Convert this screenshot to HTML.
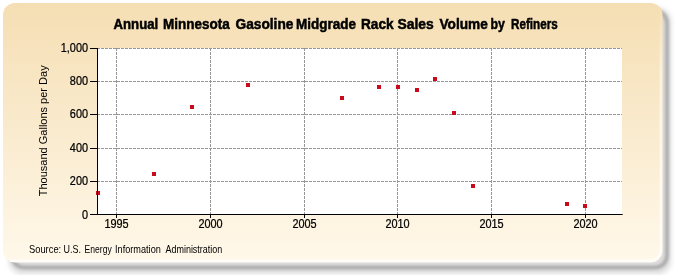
<!DOCTYPE html>
<html><head><meta charset="utf-8"><style>
html,body{margin:0;padding:0;background:#fff;width:675px;height:275px;overflow:hidden}
svg{display:block;will-change:transform}
.st{font-family:"Liberation Sans",sans-serif;font-size:10.55px;fill:#000}
.tt{font-family:"Liberation Sans",sans-serif;font-size:14.6px;font-weight:bold;fill:#000;stroke:#000;stroke-width:0.5px}
.g{stroke:#969696;stroke-width:1;stroke-dasharray:3,1;fill:none}
.ax{stroke:#000;stroke-width:1}
.t{font-family:"Liberation Sans",sans-serif;font-size:12.1px;fill:#000;stroke:#000;stroke-width:0.25px}
</style></head><body>
<svg width="675" height="275" viewBox="0 0 675 275">
<defs>
<linearGradient id="bg" x1="0" y1="0" x2="0" y2="1">
<stop offset="0" stop-color="#f5deb3"/>
<stop offset="1" stop-color="#fff8ea"/>
</linearGradient>
<linearGradient id="hl" gradientUnits="userSpaceOnUse" x1="0" y1="8" x2="0" y2="261"><stop offset="0" stop-color="#fff" stop-opacity="0"/><stop offset="0.25" stop-color="#fff" stop-opacity="0.45"/><stop offset="1" stop-color="#fff" stop-opacity="0.75"/></linearGradient>
<filter id="sh" x="-5%" y="-5%" width="110%" height="115%">
<feGaussianBlur stdDeviation="1.5"/>
</filter>
<filter id="sh2" x="-5%" y="-5%" width="110%" height="115%"><feGaussianBlur stdDeviation="2.5"/></filter>
<filter id="soft" x="-2%" y="-2%" width="104%" height="104%"><feGaussianBlur stdDeviation="0.6"/></filter>
</defs>
<rect x="9" y="8" width="662" height="266" rx="13" fill="#dedede" filter="url(#sh2)"/>
<rect x="12" y="11" width="655" height="256.5" rx="12" fill="none" stroke="#a6a6a6" stroke-width="3.5" filter="url(#sh)"/>
<g filter="url(#soft)">
<rect x="3" y="3" width="659.5" height="259.5" rx="12" fill="url(#bg)"/>
<path d="M660.8 8 V250.5 A10.3 10.3 0 0 1 650.5 260.8 H10" fill="none" stroke="url(#hl)" stroke-width="2.6"/>
</g>
<rect x="97" y="48" width="525" height="166" fill="#fff"/>
<line x1="97" y1="181.5" x2="622" y2="181.5" class="g"/><line x1="97" y1="148.5" x2="622" y2="148.5" class="g"/><line x1="97" y1="114.5" x2="622" y2="114.5" class="g"/><line x1="97" y1="81.5" x2="622" y2="81.5" class="g"/><line x1="97" y1="48.5" x2="622" y2="48.5" class="g"/><line x1="116.5" y1="48" x2="116.5" y2="214" class="g"/><line x1="210.5" y1="48" x2="210.5" y2="214" class="g"/><line x1="304.5" y1="48" x2="304.5" y2="214" class="g"/><line x1="397.5" y1="48" x2="397.5" y2="214" class="g"/><line x1="491.5" y1="48" x2="491.5" y2="214" class="g"/><line x1="585.5" y1="48" x2="585.5" y2="214" class="g"/>
<line x1="90" y1="214.5" x2="97" y2="214.5" class="ax"/><text transform="translate(88,218.50) scale(0.9,1)" text-anchor="end" class="t">0</text><line x1="90" y1="181.5" x2="97" y2="181.5" class="ax"/><text transform="translate(88,184.50) scale(0.9,1)" text-anchor="end" class="t">200</text><line x1="90" y1="148.5" x2="97" y2="148.5" class="ax"/><text transform="translate(88,151.50) scale(0.9,1)" text-anchor="end" class="t">400</text><line x1="90" y1="114.5" x2="97" y2="114.5" class="ax"/><text transform="translate(88,118.20) scale(0.9,1)" text-anchor="end" class="t">600</text><line x1="90" y1="81.5" x2="97" y2="81.5" class="ax"/><text transform="translate(88,84.50) scale(0.9,1)" text-anchor="end" class="t">800</text><line x1="90" y1="48.5" x2="97" y2="48.5" class="ax"/><text transform="translate(88,51.50) scale(0.9,1)" text-anchor="end" class="t">1,000</text>
<line x1="116.5" y1="215" x2="116.5" y2="218" class="ax"/><text transform="translate(116.5,227.8) scale(0.9,1)" text-anchor="middle" class="t">1995</text><line x1="210.5" y1="215" x2="210.5" y2="218" class="ax"/><text transform="translate(210.5,227.8) scale(0.9,1)" text-anchor="middle" class="t">2000</text><line x1="304.5" y1="215" x2="304.5" y2="218" class="ax"/><text transform="translate(304.5,227.8) scale(0.9,1)" text-anchor="middle" class="t">2005</text><line x1="397.5" y1="215" x2="397.5" y2="218" class="ax"/><text transform="translate(397.5,227.8) scale(0.9,1)" text-anchor="middle" class="t">2010</text><line x1="491.5" y1="215" x2="491.5" y2="218" class="ax"/><text transform="translate(491.5,227.8) scale(0.9,1)" text-anchor="middle" class="t">2015</text><line x1="585.5" y1="215" x2="585.5" y2="218" class="ax"/><text transform="translate(585.5,227.8) scale(0.9,1)" text-anchor="middle" class="t">2020</text>
<rect x="96" y="191" width="4" height="4" fill="#c80a1c"/><rect x="152" y="172" width="4" height="4" fill="#c80a1c"/><rect x="190" y="105" width="4" height="4" fill="#c80a1c"/><rect x="246" y="83" width="4" height="4" fill="#c80a1c"/><rect x="340" y="96" width="4" height="4" fill="#c80a1c"/><rect x="377" y="85" width="4" height="4" fill="#c80a1c"/><rect x="396" y="85" width="4" height="4" fill="#c80a1c"/><rect x="415" y="88" width="4" height="4" fill="#c80a1c"/><rect x="433" y="77" width="4" height="4" fill="#c80a1c"/><rect x="452" y="111" width="4" height="4" fill="#c80a1c"/><rect x="471" y="184" width="4" height="4" fill="#c80a1c"/><rect x="565" y="202" width="4" height="4" fill="#c80a1c"/><rect x="583" y="204" width="4" height="4" fill="#c80a1c"/>
<line x1="97.5" y1="48" x2="97.5" y2="215" class="ax"/>
<line x1="90" y1="214.5" x2="622.7" y2="214.5" class="ax"/>
<text transform="translate(113.49,28.6) scale(0.904,1)" class="tt">Annual</text><text transform="translate(163.00,28.6) scale(0.925,1)" class="tt">Minnesota</text><text transform="translate(235.48,28.6) scale(0.940,1)" class="tt">Gasoline</text><text transform="translate(295.98,28.6) scale(0.925,1)" class="tt">Midgrade</text><text transform="translate(360.99,28.6) scale(0.934,1)" class="tt">Rack</text><text transform="translate(397.47,28.6) scale(0.953,1)" class="tt">Sales</text><text transform="translate(439.50,28.6) scale(0.935,1)" class="tt">Volume</text><text transform="translate(490.51,28.6) scale(0.846,1)" class="tt">by</text><text transform="translate(511.00,28.6) scale(0.802,1)" class="tt">Refiners</text>
<text transform="translate(47.4,130.8) rotate(-90)" text-anchor="middle" style="font-family:'Liberation Sans',sans-serif;font-size:11px;fill:#000">Thousand Gallons per Day</text>
<text transform="translate(28.97,252.8) scale(0.887,1)" class="st">Source:</text><text transform="translate(63.54,252.8) scale(0.850,1)" class="st">U.S.</text><text transform="translate(84.51,252.8) scale(0.814,1)" class="st">Energy</text><text transform="translate(114.99,252.8) scale(0.869,1)" class="st">Information</text><text transform="translate(165.47,252.8) scale(0.851,1)" class="st">Administration</text>
</svg>
</body></html>
